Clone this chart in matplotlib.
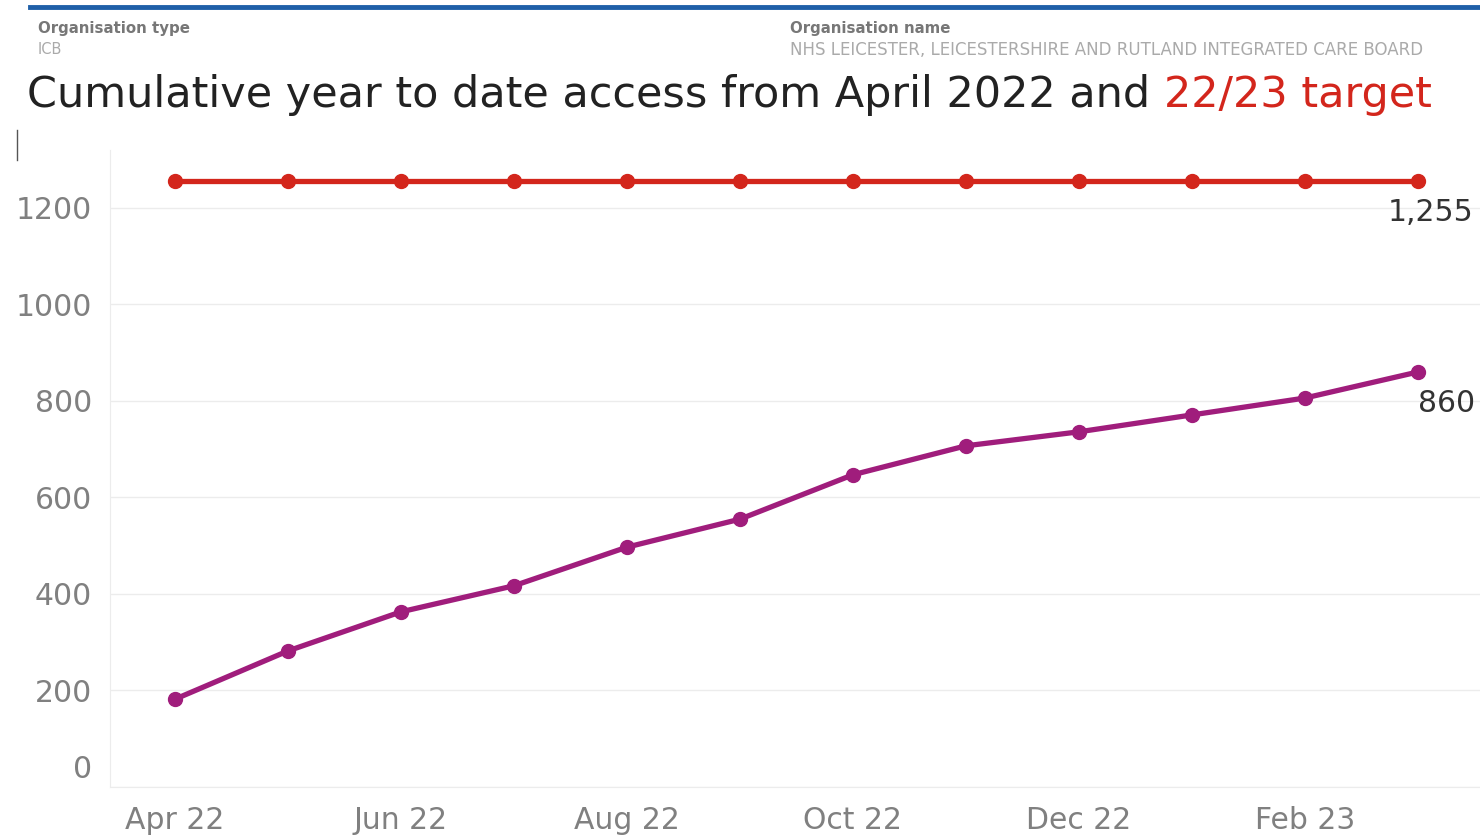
import matplotlib
matplotlib.use("Agg")
import matplotlib.pyplot as plt
from matplotlib.transforms import ScaledTranslation

# data
months = ["Apr 22", "May 22", "Jun 22", "Jul 22", "Aug 22", "Sep 22",
          "Oct 22", "Nov 22", "Dec 22", "Jan 23", "Feb 23", "Mar 23"]
access = [182, 282, 363, 417, 497, 555, 647, 707, 736, 771, 806, 860]
target = [1255] * 12
yticks = [0, 200, 400, 600, 800, 1000, 1200]

RED = "#d3261c"
PURPLE = "#a01d7c"
GREY = "#808080"

plt.rcParams["font.family"] = ["DejaVu Sans"]

fig = plt.figure(figsize=(14.8, 8.36), dpi=100)
ax = fig.add_axes([110 / 1480, 1 - 787 / 836, 1 - 110 / 1480, (787 - 150) / 836])

x = list(range(len(months)))
ax.plot(x, target, color=RED, lw=3.8, marker="o", ms=10, zorder=3)
ax.plot(x, access, color=PURPLE, lw=3.8, marker="o", ms=10, zorder=3)

ax.set_xlim(-0.575, 11.55)
ax.set_ylim(0, 1320)
ax.set_yticks(yticks)
ax.set_yticklabels([str(v) for v in yticks])
ax.set_xticks(x[::2])
ax.set_xticklabels(months[::2])
ax.tick_params(axis="both", length=0, labelsize=21.5, labelcolor=GREY)
ax.tick_params(axis="y", pad=13)
ax.tick_params(axis="x", pad=14)
ax.grid(axis="y", color="#ececec", lw=1)
ax.set_axisbelow(True)
for s in ["top", "right"]:
    ax.spines[s].set_visible(False)
ax.spines["left"].set_color("#ececec")
ax.spines["bottom"].set_color("#ececec")

# the "0" label sits a little above the base line in the original
zero = ax.get_yticklabels()[0]
zero.set_transform(zero.get_transform() + ScaledTranslation(0, 20 / 100, fig.dpi_scale_trans))

# end labels
ax.annotate(f"{target[-1]:,}", (x[-1], target[-1]), xytext=(-22, -12),
            textcoords="offset points", ha="left", va="top", fontsize=21.5, color="#333333")
ax.annotate(f"{access[-1]}", (x[-1], access[-1]), xytext=(0, -12),
            textcoords="offset points", ha="left", va="top", fontsize=21.5, color="#333333")

# header
fig.add_artist(plt.Line2D([30 / 1480, 1], [1 - 7 / 836] * 2, color="#1f5fa8", lw=3.5))
fig.text(38 / 1480, 1 - 29 / 836, "Organisation type", fontsize=10.8, color="#777777",
         fontweight="bold", va="center")
fig.text(38 / 1480, 1 - 50 / 836, "ICB", fontsize=10.5, color="#aaaaaa", va="center")
fig.text(790 / 1480, 1 - 29 / 836, "Organisation name", fontsize=10.8, color="#777777",
         fontweight="bold", va="center")
fig.text(790 / 1480, 1 - 50 / 836, "NHS LEICESTER, LEICESTERSHIRE AND RUTLAND INTEGRATED CARE BOARD",
         fontsize=12, color="#aaaaaa", va="center")

t1 = fig.text(27 / 1480, 1 - 95 / 836, "Cumulative year to date access from April 2022 and ",
              fontsize=31, color="#222222", va="center")
fig.canvas.draw()
bb = t1.get_window_extent()
fig.text(bb.x1 / fig.bbox.width, 1 - 95 / 836, "22/23 target", fontsize=31, color=RED, va="center")

fig.add_artist(plt.Line2D([17 / 1480] * 2, [1 - 130 / 836, 1 - 160 / 836], color="#555555", lw=1))

fig.savefig("out.png", dpi=100)
